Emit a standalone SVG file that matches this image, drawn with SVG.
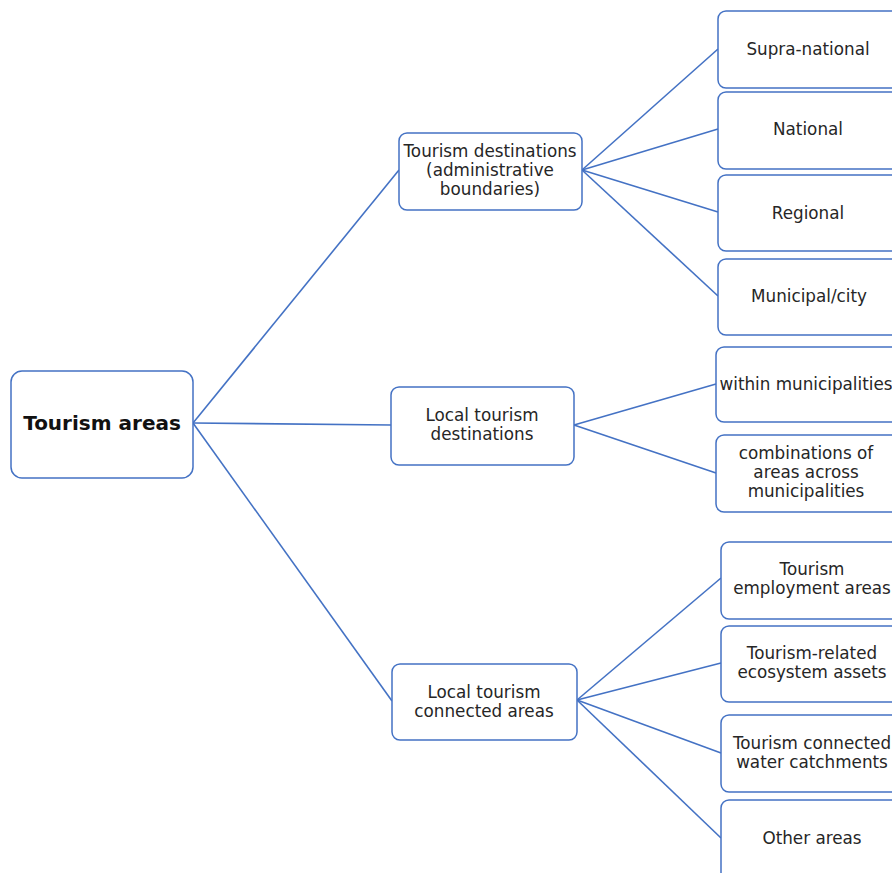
<svg xmlns="http://www.w3.org/2000/svg" width="892" height="873" viewBox="0 0 892 873">
<style>
.b{fill:#fff;stroke:#4472C4;stroke-width:1.5}
.t{font-family:"DejaVu Sans","Liberation Sans",sans-serif;font-size:16.8px;fill:#262626;text-anchor:middle;dominant-baseline:central}
.r{font-family:"DejaVu Sans","Liberation Sans",sans-serif;font-size:20px;font-weight:bold;fill:#111;text-anchor:middle;dominant-baseline:central}
.c line{stroke:#4472C4;stroke-width:1.6}
</style>
<rect width="892" height="873" fill="#fff"/>
<g class="c" id="connectors">
<line x1="193" y1="423" x2="399" y2="170"/>
<line x1="193" y1="423" x2="391" y2="425"/>
<line x1="193" y1="423" x2="392" y2="701"/>
<line x1="582" y1="170" x2="718" y2="49"/>
<line x1="582" y1="170" x2="718" y2="129"/>
<line x1="582" y1="170" x2="718" y2="212"/>
<line x1="582" y1="170" x2="718" y2="296"/>
<line x1="574" y1="425" x2="716" y2="384"/>
<line x1="574" y1="425" x2="716" y2="473"/>
<line x1="577" y1="700" x2="721" y2="578"/>
<line x1="577" y1="700" x2="721" y2="663"/>
<line x1="577" y1="700" x2="721" y2="753"/>
<line x1="577" y1="700" x2="721" y2="838"/>
</g>
<g id="root"><rect class="b" x="11" y="371" width="182" height="107" rx="11"/><text class="r" x="102" y="423">Tourism areas</text></g>
<g id="td"><rect class="b" x="399" y="133" width="183" height="77" rx="8"/><text class="t" x="490" y="151">Tourism destinations</text><text class="t" x="490" y="170">(administrative</text><text class="t" x="490" y="189">boundaries)</text></g>
<g id="ltd"><rect class="b" x="391" y="387" width="183" height="78" rx="8"/><text class="t" x="482" y="415">Local tourism</text><text class="t" x="482" y="434">destinations</text></g>
<g id="ltca"><rect class="b" x="392" y="664" width="185" height="76" rx="8"/><text class="t" x="484" y="692">Local tourism</text><text class="t" x="484" y="711">connected areas</text></g>
<g id="supra"><rect class="b" x="718" y="11" width="190" height="77" rx="8"/><text class="t" x="808" y="49">Supra-national</text></g>
<g id="national"><rect class="b" x="718" y="92" width="190" height="77" rx="8"/><text class="t" x="808" y="129">National</text></g>
<g id="regional"><rect class="b" x="718" y="175" width="190" height="76" rx="8"/><text class="t" x="808" y="213">Regional</text></g>
<g id="municipal"><rect class="b" x="718" y="259" width="190" height="76" rx="8"/><text class="t" x="809" y="296">Municipal/city</text></g>
<g id="within"><rect class="b" x="716" y="347" width="190" height="75" rx="8"/><text class="t" x="806" y="384">within municipalities</text></g>
<g id="combinations"><rect class="b" x="716" y="435" width="190" height="77" rx="8"/><text class="t" x="806" y="453">combinations of</text><text class="t" x="806" y="472">areas across</text><text class="t" x="806" y="491">municipalities</text></g>
<g id="employment"><rect class="b" x="721" y="542" width="190" height="77" rx="8"/><text class="t" x="812" y="569">Tourism</text><text class="t" x="812" y="588">employment areas</text></g>
<g id="ecosystem"><rect class="b" x="721" y="626" width="190" height="76" rx="8"/><text class="t" x="812" y="653">Tourism-related</text><text class="t" x="812" y="672">ecosystem assets</text></g>
<g id="water"><rect class="b" x="721" y="715" width="190" height="77" rx="8"/><text class="t" x="812" y="743">Tourism connected</text><text class="t" x="812" y="762">water catchments</text></g>
<g id="other"><rect class="b" x="721" y="800" width="190" height="90" rx="8"/><text class="t" x="812" y="838">Other areas</text></g>
</svg>
